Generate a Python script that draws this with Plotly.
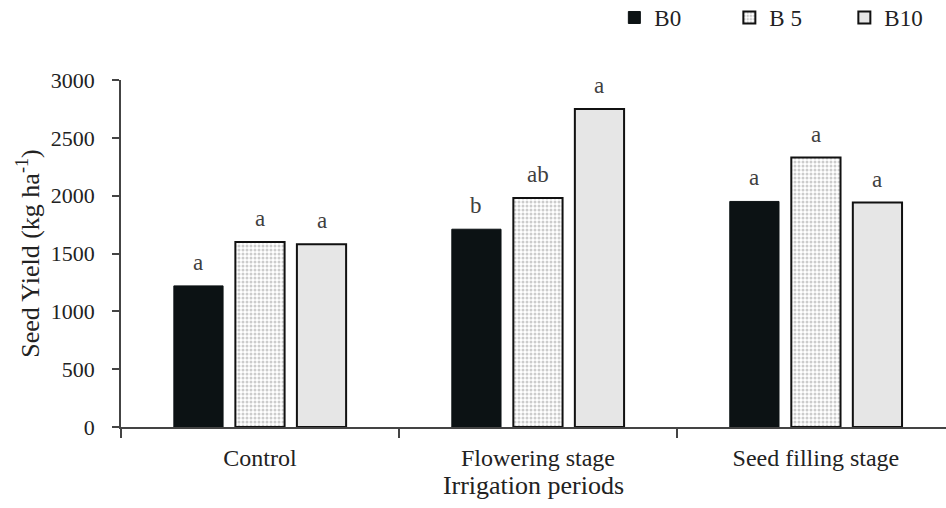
import plotly.graph_objects as go

categories = ["Control", "Flowering stage", "Seed filling stage"]
series_names = ["B0", "B 5", "B10"]
b0 = [1220, 1710, 1950]
b5 = [1600, 1980, 2330]
b10 = [1580, 2750, 1940]
letters_b0 = ["a", "b", "a"]
letters_b5 = ["a", "ab", "a"]
letters_b10 = ["a", "a", "a"]

FONT = "Liberation Serif, Times New Roman, serif"
BARGAP = 0.336
fig = go.Figure()

fig.add_trace(go.Bar(
    name=series_names[0], x=categories, y=b0,
    marker=dict(color="#0c1214", line=dict(color="#0c1214", width=1)),
))
fig.add_trace(go.Bar(
    name=series_names[1], x=categories, y=b5,
    marker=dict(color="white", line=dict(color="#111", width=2),
                pattern=dict(shape=".", fgcolor="#9a9a9a", bgcolor="white", size=4, solidity=0.45)),
))
fig.add_trace(go.Bar(
    name=series_names[2], x=categories, y=b10,
    marker=dict(color="#e6e6e6", line=dict(color="#111", width=2)),
))

slot = (1 - BARGAP) / 3
for j, (vals, lets) in enumerate([(b0, letters_b0), (b5, letters_b5), (b10, letters_b10)]):
    for i, (v, t) in enumerate(zip(vals, lets)):
        fig.add_annotation(x=i + (j - 1) * slot, y=v, text=t, showarrow=False,
                           xref="x", yref="y", yanchor="bottom", yshift=9,
                           font=dict(family=FONT, size=23, color="#404040"))

fig.update_layout(
    width=946, height=508,
    margin=dict(l=121, r=0, t=80, b=81, autoexpand=False),
    paper_bgcolor="white", plot_bgcolor="white",
    barmode="group", bargap=BARGAP, bargroupgap=0.2,
    font=dict(family=FONT, size=22, color="#222"),
    legend=dict(orientation="h", x=0.598, xanchor="left", y=1.18, yanchor="middle",
                font=dict(family=FONT, size=23, color="#222"),
                entrywidth=70, entrywidthmode="pixels", itemwidth=30,
                traceorder="normal"),
    showlegend=True,
)
fig.update_xaxes(
    type="category", range=[-0.5, 2.468],
    showline=True, linecolor="#444", linewidth=1.5,
    ticks="outside", tickson="boundaries", ticklen=9, tickcolor="#444", tickwidth=1.5,
    ticklabelstandoff=8,
    tickfont=dict(family=FONT, size=24, color="#222"),
    title=dict(text="Irrigation periods", font=dict(family=FONT, size=26, color="#222"), standoff=4),
    showgrid=False, zeroline=False,
)
fig.update_yaxes(
    range=[0, 3000], dtick=500,
    showline=True, linecolor="#444", linewidth=1.5,
    ticks="outside", ticklen=7, tickcolor="#444", tickwidth=1.5,
    ticklabelstandoff=13,
    tickfont=dict(family=FONT, size=22, color="#222"),
    title=dict(text="Seed Yield (kg ha<sup>-1</sup>)", font=dict(family=FONT, size=26, color="#222"), standoff=4),
    showgrid=False, zeroline=False,
)

fig.write_html("out.html")
